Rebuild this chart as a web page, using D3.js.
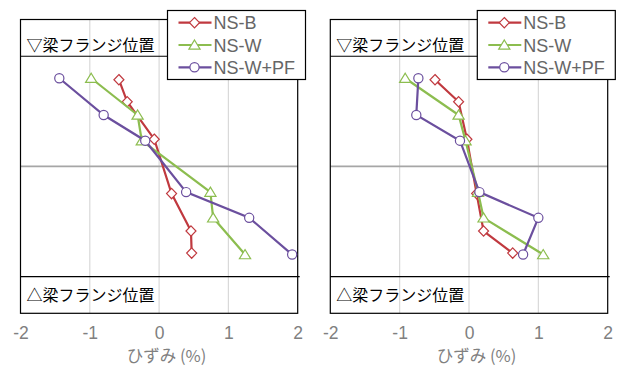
<!DOCTYPE html>
<html>
<head>
<meta charset="utf-8">
<script src="https://cdn.jsdelivr.net/npm/d3@7"></script>
<style>
body { margin: 0; background: #fff; }
</style>
</head>
<body>
<div id="chart"></div>
<script>
const seriesNames = ['NS-B', 'NS-W', 'NS-W+PF'];
const seriesColors = ['#c0393f', '#8cbd4f', '#6b4f9e'];
const seriesMarkers = ['diamond', 'triangle', 'circle'];

// gauge heights (mm from beam centre)
const heightsB = [118, 88, 37, -37, -88, -118];
const heightsW = [120, 70, 35, -35, -70, -120];
const flangeLevels = [150, -150];
const xTicks = [-2, -1, 0, 1, 2];

// strains (%) - left panel
const leftB = [-0.58, -0.46, -0.07, 0.18, 0.46, 0.47];
const leftW = [-0.98, -0.31, -0.25, 0.74, 0.78, 1.24];
const leftPF = [-1.44, -0.80, -0.20, 0.39, 1.30, 1.92];

// strains (%) - right panel
const rightB = [-0.49, -0.15, -0.03, 0.11, 0.21, 0.63];
const rightW = [-0.92, -0.15, -0.05, 0.13, 0.21, 1.07];
const rightPF = [-0.73, -0.76, -0.13, 0.15, 1.00, 0.78];

const width = 623;
const height = 367;

const svg = d3.select('#chart').append('svg')
    .attr('width', width)
    .attr('height', height);

const markerPath = (type) => {
    if (type === 'diamond') return 'M0,-5.2L5,0L0,5.2L-5,0Z';
    if (type === 'triangle') return 'M0,-5L5.6,4.2L-5.6,4.2Z';
    return d3.symbol(d3.symbolCircle, Math.PI * 4.6 * 4.6)();
};

function drawPanel(left, right, series) {
    const top = 19.5;
    const bottom = 313.3;

    const x = d3.scaleLinear().domain([-2, 2]).range([left, right]);
    const y = d3.scaleLinear().domain([-200, 200]).range([bottom, top]);

    const g = svg.append('g');

    // vertical gridlines
    g.selectAll('.grid')
        .data(xTicks.slice(1, -1))
        .enter()
        .append('line')
        .attr('x1', d => x(d))
        .attr('x2', d => x(d))
        .attr('y1', top)
        .attr('y2', bottom)
        .attr('stroke', '#d9d9d9')
        .attr('stroke-width', 1.2);

    // zero line
    g.append('line')
        .attr('x1', left).attr('x2', right)
        .attr('y1', y(0)).attr('y2', y(0))
        .attr('stroke', '#a6a6a6')
        .attr('stroke-width', 1.6);

    // plot border
    g.append('rect')
        .attr('x', left).attr('y', top)
        .attr('width', right - left).attr('height', bottom - top)
        .attr('fill', 'none')
        .attr('stroke', '#000')
        .attr('stroke-width', 1.2);

    // beam flange lines
    g.selectAll('.flange')
        .data(flangeLevels)
        .enter()
        .append('line')
        .attr('x1', left)
        .attr('x2', right + 2)
        .attr('y1', d => y(d))
        .attr('y2', d => y(d))
        .attr('stroke', '#000')
        .attr('stroke-width', 1.2);

    g.append('text')
        .attr('x', left + 6)
        .attr('y', y(150) - 5.5)
        .attr('font-family', '"Noto Sans CJK JP"')
        .attr('font-size', 16)
        .attr('fill', '#000')
        .text('▽梁フランジ位置');

    g.append('text')
        .attr('x', left + 6)
        .attr('y', (y(-150) + bottom) / 2 + 6)
        .attr('font-family', '"Noto Sans CJK JP"')
        .attr('font-size', 16)
        .attr('fill', '#000')
        .text('△梁フランジ位置');

    // series
    series.forEach((s, i) => {
        const pts = s.values.map((v, j) => ({ x: v, y: s.heights[j] }));
        const line = d3.line().x(d => x(d.x)).y(d => y(d.y));

        g.append('path')
            .datum(pts)
            .attr('d', line)
            .attr('fill', 'none')
            .attr('stroke', seriesColors[i])
            .attr('stroke-width', 2.2);

        g.selectAll('.m' + i)
            .data(pts)
            .enter()
            .append('path')
            .attr('d', markerPath(seriesMarkers[i]))
            .attr('transform', d => `translate(${x(d.x)},${y(d.y)})`)
            .attr('fill', '#fff')
            .attr('stroke', seriesColors[i])
            .attr('stroke-width', 1.2);
    });

    // x axis labels
    const axis = g.append('g')
        .attr('transform', `translate(0,${bottom + 10})`)
        .call(d3.axisBottom(x).tickValues(xTicks).tickSize(0).tickFormat(d3.format('d')));
    axis.select('.domain').remove();
    axis.selectAll('text')
        .attr('font-family', '"Liberation Sans", Arial, sans-serif')
        .attr('font-size', 17.5)
        .attr('fill', '#808080')
        .text(d => d < 0 ? '-' + Math.abs(d) : d);

    g.append('text')
        .attr('x', x(0) + 7.5)
        .attr('y', 362)
        .attr('text-anchor', 'middle')
        .attr('font-family', '"Noto Sans CJK JP"')
        .attr('font-size', 16.5)
        .attr('fill', '#808080')
        .text('ひずみ (%)');

    // legend
    const lx = left + 147;
    const legend = g.append('g');
    legend.append('rect')
        .attr('x', lx).attr('y', 10.5)
        .attr('width', 138).attr('height', 69)
        .attr('fill', '#fff')
        .attr('stroke', '#000')
        .attr('stroke-width', 1.2);

    seriesNames.forEach((name, i) => {
        const ly = 22.7 + i * 22.3;
        legend.append('line')
            .attr('x1', lx + 11).attr('x2', lx + 44)
            .attr('y1', ly).attr('y2', ly)
            .attr('stroke', seriesColors[i])
            .attr('stroke-width', 2.2);
        legend.append('path')
            .attr('d', markerPath(seriesMarkers[i]))
            .attr('transform', `translate(${lx + 27},${ly})`)
            .attr('fill', '#fff')
            .attr('stroke', seriesColors[i])
            .attr('stroke-width', 1.2);
        legend.append('text')
            .attr('x', lx + 46)
            .attr('y', ly + 6.5)
            .attr('font-family', '"Liberation Sans", Arial, sans-serif')
            .attr('font-size', 18)
            .attr('fill', '#666')
            .text(name);
    });
}

drawPanel(20.5, 297.7, [
    { values: leftB, heights: heightsB },
    { values: leftW, heights: heightsW },
    { values: leftPF, heights: heightsW }
]);

drawPanel(330.3, 607.7, [
    { values: rightB, heights: heightsB },
    { values: rightW, heights: heightsW },
    { values: rightPF, heights: heightsW }
]);
</script>
</body>
</html>
